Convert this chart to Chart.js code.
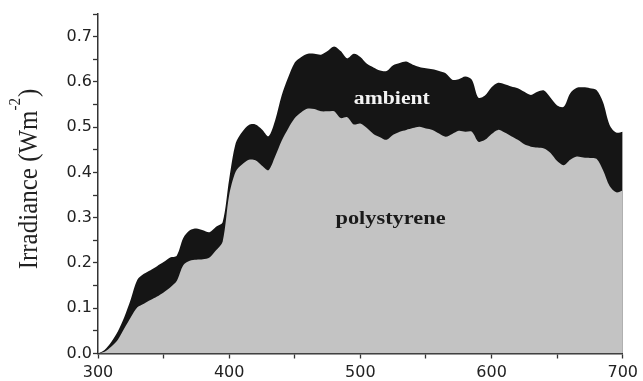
<!DOCTYPE html>
<html>
<head>
<meta charset="utf-8">
<script src="https://cdn.jsdelivr.net/npm/chart.js@4.4.1/dist/chart.umd.min.js"></script>
<style>
  html, body { margin: 0; padding: 0; background: #fff; }
  canvas { display: block; }
</style>
</head>
<body>
<canvas id="chart" width="643" height="381"></canvas>
<script>
// wavelength (nm)
const wavelengths = [
  300, 305, 310, 315, 320, 325, 330, 335, 340, 345,
  350, 355, 360, 365, 370, 375, 380, 385, 390, 395,
  400, 405, 410, 415, 420, 425, 430, 435, 440, 445,
  450, 455, 460, 465, 470, 475, 480, 485, 490, 495,
  500, 505, 510, 515, 520, 525, 530, 535, 540, 545,
  550, 555, 560, 565, 570, 575, 580, 585, 590, 595,
  600, 605, 610, 615, 620, 625, 630, 635, 640, 645,
  650, 655, 660, 665, 670, 675, 680, 685, 690, 695,
  700
];

// irradiance, ambient (W m-2)
const ambient = [
  0.000, 0.008, 0.025, 0.048, 0.080, 0.120, 0.163, 0.176, 0.184, 0.193,
  0.202, 0.212, 0.216, 0.255, 0.272, 0.276, 0.272, 0.268, 0.280, 0.290,
  0.385, 0.465, 0.490, 0.505, 0.506, 0.495, 0.480, 0.515, 0.570, 0.610,
  0.643, 0.655, 0.662, 0.662, 0.660, 0.668, 0.678, 0.668, 0.652, 0.662,
  0.655, 0.640, 0.632, 0.625, 0.624, 0.637, 0.642, 0.645, 0.638, 0.633,
  0.630, 0.628, 0.624, 0.619, 0.605, 0.606, 0.612, 0.605, 0.565, 0.570,
  0.588, 0.598, 0.595, 0.590, 0.586, 0.578, 0.571, 0.578, 0.581, 0.565,
  0.548, 0.545, 0.575, 0.587, 0.588, 0.586, 0.582, 0.555, 0.505, 0.488,
  0.490
];

// irradiance under polystyrene (W m-2)
const polystyrene = [
  0.000, 0.004, 0.015, 0.030, 0.055, 0.080, 0.102, 0.110, 0.118, 0.126,
  0.135, 0.146, 0.160, 0.195, 0.205, 0.207, 0.208, 0.212, 0.228, 0.247,
  0.350, 0.402, 0.418, 0.428, 0.427, 0.415, 0.405, 0.435, 0.470, 0.497,
  0.520, 0.533, 0.541, 0.540, 0.535, 0.535, 0.535, 0.520, 0.522, 0.506,
  0.508, 0.498, 0.485, 0.478, 0.472, 0.483, 0.490, 0.494, 0.498, 0.501,
  0.497, 0.494, 0.486, 0.479, 0.485, 0.492, 0.490, 0.490, 0.468, 0.472,
  0.485, 0.494, 0.488, 0.480, 0.472, 0.462, 0.457, 0.455, 0.453, 0.443,
  0.425, 0.416, 0.428, 0.435, 0.433, 0.432, 0.430, 0.405, 0.370, 0.356,
  0.360
];

const axisColor = '#333';
const tickFont = { family: "'DejaVu Sans', sans-serif", size: 16 };

function toPoints(values) {
  return wavelengths.map((w, i) => ({ x: w, y: values[i] }));
}

// bold serif text squeezed/stretched to a given width
function drawFitted(ctx, text, cx, baseY, width, color) {
  ctx.save();
  ctx.font = "bold 18px 'Liberation Serif', serif";
  const w = ctx.measureText(text).width;
  ctx.translate(cx, baseY);
  ctx.scale(width / w, 1);
  ctx.fillStyle = color;
  ctx.textAlign = 'center';
  ctx.textBaseline = 'alphabetic';
  ctx.fillText(text, 0, 0);
  ctx.restore();
}

const textPlugin = {
  id: 'texts',
  afterDatasetsDraw(chart) {
    const { ctx, scales: { x, y } } = chart;
    drawFitted(ctx, 'ambient', x.getPixelForValue(524), y.getPixelForValue(0.551), 76, '#f4f4f4');
    drawFitted(ctx, 'polystyrene', x.getPixelForValue(523), y.getPixelForValue(0.286), 110, '#1a1a1a');

    // y axis title with superscript
    ctx.save();
    const main = "25px 'Liberation Serif', serif";
    const sup = "15px 'Liberation Serif', serif";
    ctx.font = main;
    const w1 = ctx.measureText('Irradiance (Wm').width;
    const w3 = ctx.measureText(')').width;
    ctx.font = sup;
    const w2 = ctx.measureText('-2').width + 1;
    const total = w1 + w2 + w3;
    ctx.translate(37, 179);
    ctx.rotate(-Math.PI / 2);
    ctx.scale(1, 1.12);
    ctx.fillStyle = '#222';
    ctx.textBaseline = 'alphabetic';
    ctx.textAlign = 'left';
    let px = -total / 2;
    ctx.font = main;
    ctx.fillText('Irradiance (Wm', px, 0);
    px += w1;
    ctx.font = sup;
    ctx.fillText('-2', px, -15);
    px += w2;
    ctx.font = main;
    ctx.fillText(')', px, 0);
    ctx.restore();
  }
};

new Chart(document.getElementById('chart'), {
  type: 'line',
  data: {
    datasets: [
      {
        label: 'polystyrene',
        data: toPoints(polystyrene),
        backgroundColor: '#c3c3c3',
        borderWidth: 0,
        fill: 'origin',
        order: 1
      },
      {
        label: 'ambient',
        data: toPoints(ambient),
        backgroundColor: '#151515',
        borderWidth: 0,
        fill: 'origin',
        order: 2
      }
    ]
  },
  options: {
    responsive: false,
    devicePixelRatio: 1,
    animation: false,
    layout: { padding: { top: 14, right: 20, left: 0, bottom: 0 } },
    elements: {
      point: { radius: 0 },
      line: { tension: 0.3 }
    },
    plugins: {
      legend: { display: false },
      tooltip: { enabled: false }
    },
    scales: {
      x: {
        type: 'linear',
        min: 300,
        max: 700,
        ticks: {
          stepSize: 50,
          autoSkip: false,
          maxRotation: 0,
          padding: 5,
          color: '#222',
          font: tickFont,
          callback: v => (v % 100 === 0 ? String(v) : '')
        },
        grid: { drawOnChartArea: false, drawTicks: true, tickLength: 5, tickColor: axisColor, tickWidth: 1.3 },
        border: { color: axisColor, width: 1.5 },
        afterFit(scale) { scale.height = 27.5; }
      },
      y: {
        min: 0,
        max: 0.75,
        ticks: {
          stepSize: 0.05,
          autoSkip: false,
          padding: 1,
          color: '#222',
          font: tickFont,
          callback: v => (Math.round(v * 100) % 10 === 0 ? v.toFixed(1) : '')
        },
        grid: { drawOnChartArea: false, drawTicks: true, tickLength: 5, tickColor: axisColor, tickWidth: 1.3 },
        border: { color: axisColor, width: 1.5 },
        afterFit(scale) { scale.width = 98; }
      }
    }
  },
  plugins: [textPlugin]
});
</script>
</body>
</html>
